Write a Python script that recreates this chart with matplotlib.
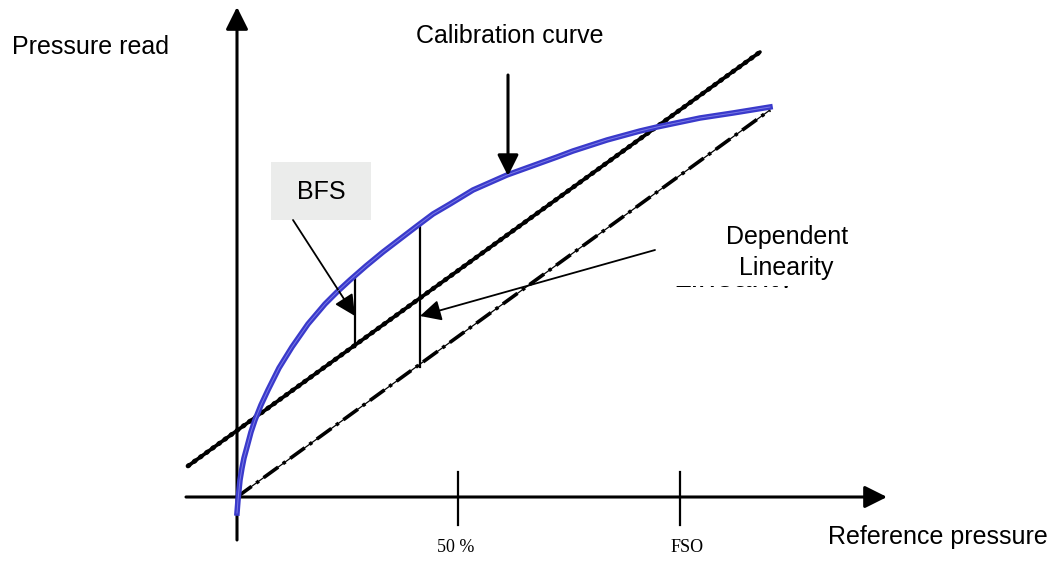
import matplotlib.pyplot as plt
from matplotlib.patches import Rectangle

# diagram is laid out in pixel units of the original picture (y grows downward)
# calibration curve (blue)
curve_x = [237, 238, 239, 240, 242, 244, 247, 251, 255, 261, 268, 279, 292, 308, 325, 337,
           350, 366, 383, 400, 417, 433, 450, 473, 507, 532, 557, 573, 607, 640, 657, 700, 733, 770]
curve_y = [513, 500, 490, 480, 468, 458, 447, 432, 420, 405, 390, 368, 347, 324, 304, 292,
           280, 266, 252, 239, 226, 214, 204, 190, 175, 166, 157, 151, 140, 131, 127, 118, 113, 107]

# best fit straight line and terminal (dependent) line
bfs_x = [188, 760]
bfs_y = [466, 52]
dep_x = [237, 770]
dep_y = [497, 110]

# deviation markers between curve and the lines
dev_x = [355, 420]
dev_top = [277, 226]
dev_bottom = [347, 367]

# x axis ticks
tick_x = [458, 680]
tick_labels = ['50 %', 'FSO']
tick_label_x = [456, 687]
origin = (237, 497)

plt.rcParams['font.family'] = ['Liberation Sans', 'DejaVu Sans']

fig = plt.figure(figsize=(10.57, 5.62), dpi=100)
ax = fig.add_axes([0, 0, 1, 1])
ax.set_xlim(0, 1057)
ax.set_ylim(562, 0)
ax.axis('off')

arrow = dict(arrowstyle='-|>', color='black', lw=2.2, mutation_scale=34, shrinkA=0, shrinkB=0)

# axes with arrow heads
ax.annotate('', xy=(origin[0], 7), xytext=(origin[0], 540), arrowprops=arrow)
ax.annotate('', xy=(887, origin[1]), xytext=(186, origin[1]), arrowprops=arrow)

for tx, lx, lab in zip(tick_x, tick_label_x, tick_labels):
    ax.plot([tx, tx], [472, 525], color='black', lw=1.6)
    ax.text(lx, 552, lab, family='Liberation Serif', fontsize=13, ha='center', va='baseline')

# straight lines
ax.plot(bfs_x, bfs_y, color='black', lw=2.6, solid_capstyle='round')
ax.plot(bfs_x, bfs_y, color='black', lw=3.4, linestyle=(0, (0.3, 1.3)), dash_capstyle='round')
ax.plot(dep_x, dep_y, color='black', lw=0.9)
ax.plot(dep_x, dep_y, color='black', lw=2.6, linestyle=(0, (5, 1.6, 0.9, 1.6)))

# calibration curve
ax.plot(curve_x, curve_y, color='#3a3acb', lw=4, solid_joinstyle='round', zorder=3)
ax.plot(curve_x, curve_y, color='#7a7ae6', lw=0.7, solid_joinstyle='round', zorder=4)

for x, t, b in zip(dev_x, dev_top, dev_bottom):
    ax.plot([x, x], [t, b], color='black', lw=1.6)

# annotation arrows
ax.annotate('', xy=(508, 176), xytext=(508, 75),
            arrowprops=dict(arrowstyle='-|>', color='black', lw=2.2, mutation_scale=32, shrinkA=0, shrinkB=0))
ax.annotate('', xy=(355, 316), xytext=(293, 220),
            arrowprops=dict(arrowstyle='-|>', color='black', lw=1.3, mutation_scale=32, shrinkA=0, shrinkB=0))
ax.annotate('', xy=(420, 316), xytext=(655, 250),
            arrowprops=dict(arrowstyle='-|>', color='black', lw=1.3, mutation_scale=32, shrinkA=0, shrinkB=0))

# BFS box
ax.add_patch(Rectangle((271, 162), 100, 58, facecolor='#ebeceb', edgecolor='none', zorder=2))
ax.text(321, 199, 'BFS', fontsize=18, ha='center', va='baseline', zorder=5)

# texts
ax.text(12, 54, 'Pressure read', fontsize=18, ha='left', va='baseline')
ax.text(510, 43, 'Calibration curve', fontsize=18, ha='center', va='baseline')
ax.text(1048, 544, 'Reference pressure', fontsize=18, ha='right', va='baseline')
ax.text(787, 244, 'Dependent', fontsize=18, ha='center', va='baseline', zorder=6)
ax.text(786, 275, 'Linearity', fontsize=18, ha='center', va='baseline', zorder=6)

# leftover label, only its bottom edge peeks out from under a white box
ax.text(734, 287.5, 'Linearity', fontsize=23, ha='center', va='baseline', zorder=1)
ax.add_patch(Rectangle((665, 252), 150, 33.5, facecolor='white', edgecolor='none', zorder=1.5))
ax.add_patch(Rectangle((665, 288), 150, 14, facecolor='white', edgecolor='none', zorder=1.5))

fig.savefig('out.png', dpi=100)
